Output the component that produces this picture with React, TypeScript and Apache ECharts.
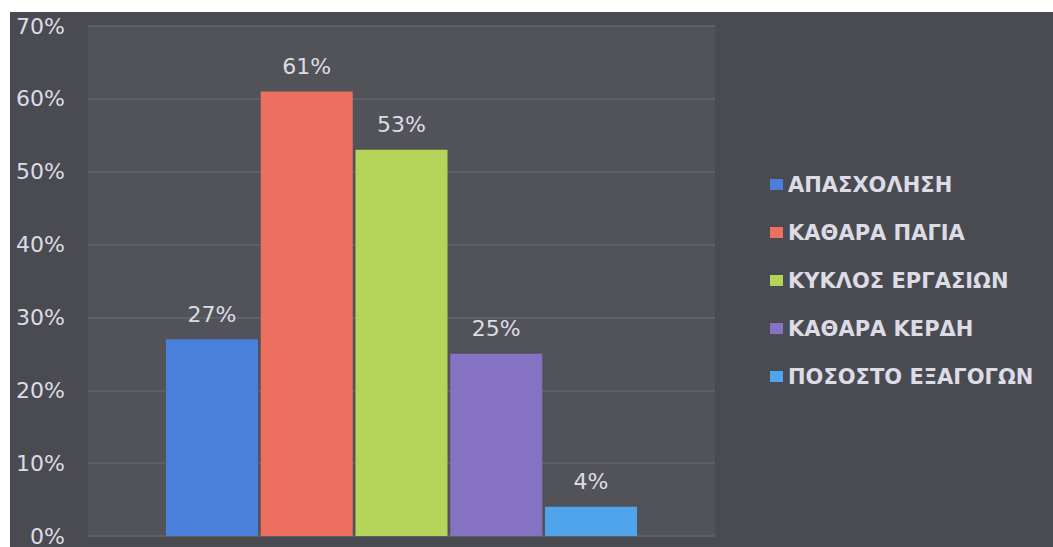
import React, { useEffect, useRef } from "react";
import * as echarts from "echarts";

const categories = [""];
const seriesNames = [
  "ΑΠΑΣΧΟΛΗΣΗ",
  "ΚΑΘΑΡΑ ΠΑΓΙΑ",
  "ΚΥΚΛΟΣ ΕΡΓΑΣΙΩΝ",
  "ΚΑΘΑΡΑ ΚΕΡΔΗ",
  "ΠΟΣΟΣΤΟ ΕΞΑΓΟΓΩΝ",
];
const seriesValues = [27, 61, 53, 25, 4];
const seriesColors = ["#4a7fdc", "#ec6f5f", "#b6d45a", "#8672c2", "#4fa4ec"];
const yTicks = [0, 10, 20, 30, 40, 50, 60, 70];

export default function App() {
  const ref = useRef<HTMLDivElement>(null);
  useEffect(() => {
    if (!ref.current) return;
    const chart = echarts.init(ref.current, undefined, { renderer: "svg" });
    const textColor = "#dcdce6";
    const font = "DejaVu Sans";
    chart.setOption({
      animation: false,
      backgroundColor: "#4a4b50",
      grid: {
        left: 78,
        top: 14,
        right: 338,
        bottom: 5,
        show: true,
        backgroundColor: "#525358",
        borderWidth: 0,
      },
      legend: {
        orient: "vertical",
        left: 755,
        top: 157,
        itemGap: 27,
        itemWidth: 13,
        itemHeight: 11,
        icon: "rect",
        data: seriesNames,
        textStyle: { color: textColor, fontSize: 21, fontWeight: "bold", fontFamily: font },
      },
      xAxis: {
        type: "category",
        data: categories,
        axisLine: { show: false },
        axisTick: { show: false },
        axisLabel: { show: false },
      },
      yAxis: {
        type: "value",
        min: yTicks[0],
        max: yTicks[yTicks.length - 1],
        interval: 10,
        axisLine: { show: false },
        axisTick: { show: false },
        axisLabel: {
          formatter: (v: number) => v + "%",
          color: textColor,
          fontSize: 22,
          fontFamily: font,
          margin: 23,
        },
        splitLine: { lineStyle: { color: "#64656b", width: 1.5 } },
      },
      series: seriesNames.map((name, i) => ({
        name,
        type: "bar",
        barWidth: 92,
        barGap: "3%",
        data: categories.map(() => seriesValues[i]),
        itemStyle: { color: seriesColors[i] },
        label: {
          show: true,
          position: "top",
          distance: 14,
          formatter: (p: any) => p.value + "%",
          color: textColor,
          fontSize: 22,
          fontFamily: font,
        },
      })),
    });
    return () => chart.dispose();
  }, []);
  return (
    <div
      ref={ref}
      style={{ position: "absolute", left: 10, top: 12, width: 1043, height: 535 }}
    />
  );
}
